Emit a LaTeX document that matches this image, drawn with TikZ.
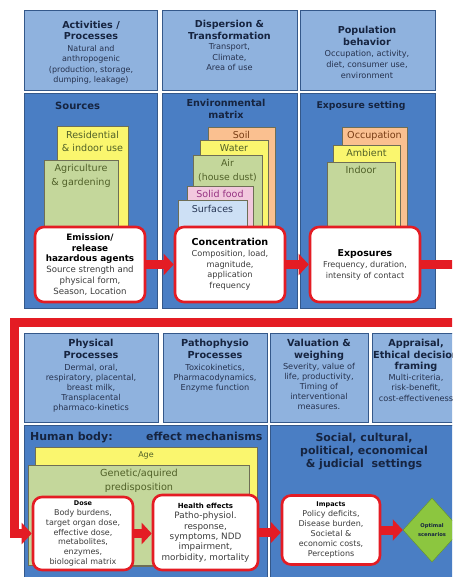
\documentclass[tikz,border=0pt]{standalone}
\usepackage{fontspec}
\setmainfont{DejaVu Sans}
\usetikzlibrary{arrows.meta,shapes.geometric}
\definecolor{hdrblue}{RGB}{143,178,222}
\definecolor{lowblue}{RGB}{74,126,196}
\definecolor{edgeblue}{RGB}{52,88,138}
\definecolor{myred}{RGB}{228,28,36}
\definecolor{ttl}{RGB}{22,36,64}
\definecolor{bodytxt}{RGB}{38,50,78}
\definecolor{yel}{RGB}{250,246,110}
\definecolor{grn}{RGB}{196,215,155}
\definecolor{peach}{RGB}{250,192,144}
\definecolor{pinkc}{RGB}{242,200,222}
\definecolor{lblue}{RGB}{205,224,245}
\definecolor{olivetxt}{RGB}{80,96,40}
\definecolor{browntxt}{RGB}{120,60,20}
\definecolor{purptxt}{RGB}{150,50,130}
\definecolor{slatetxt}{RGB}{40,55,85}
\definecolor{dgreen}{RGB}{140,198,63}
\definecolor{boxtxt}{RGB}{60,60,60}
\definecolor{cedge}{RGB}{110,110,85}
\newcommand\fsz[2]{\fontsize{#1}{#2}\selectfont}
\tikzset{
  hdr/.style={draw=edgeblue, fill=hdrblue, line width=0.8pt},
  low/.style={draw=edgeblue, fill=lowblue, line width=0.8pt},
  cbox/.style={draw=cedge, line width=0.5pt},
  rbox/.style={draw=myred, line width=2.6pt, fill=white, rounded corners=9pt, inner sep=0pt, align=center, text=boxtxt},
  txt/.style={inner sep=0pt, align=center, anchor=north},
  ttltxt/.style={txt, text=ttl},
  bodyt/.style={txt, text=bodytxt},
  rarrow/.style={draw=myred, line width=9pt, -{Triangle[width=21pt,length=10pt]}},
  rline/.style={draw=myred, line width=8.5pt},
}
\begin{document}
\begin{tikzpicture}[x=1pt,y=-1pt]
\useasboundingbox (0,0) rectangle (452,577);
\clip (0,0) rectangle (452,577);
\fill[white] (0,0) rectangle (452,577);

% ---------- top panel ----------
\draw[hdr] (24,10) rectangle (157,90);
\draw[hdr] (162,10) rectangle (297,90);
\draw[hdr] (300,10) rectangle (435,90);
\draw[low] (24,93) rectangle (157,308);
\draw[low] (162,93) rectangle (297,308);
\draw[low] (300,93) rectangle (435,308);

\node[ttltxt, font=\fsz{9.6}{11}\bfseries] (t1) at (91,21.2) {Activities /\\Processes};
\node[bodyt, font=\fsz{8}{10.5}] (b1) at (91,44.8) {Natural and\\anthropogenic\\(production, storage,\\dumping, leakage)};
\node[ttltxt, font=\fsz{9.6}{11.5}\bfseries] (t2) at (229.5,20.2) {Dispersion \&\\Transformation};
\node[bodyt, font=\fsz{8.2}{10.5}] (b2) at (229.5,43.8) {Transport,\\Climate,\\Area of use};
\node[ttltxt, font=\fsz{9.6}{12}\bfseries] (t3) at (367,26.2) {Population\\behavior};
\node[bodyt, font=\fsz{8.2}{11}] (b3) at (367,49.8) {Occupation, activity,\\diet, consumer use,\\environment};

\node[anchor=north west, inner sep=0pt, text=ttl, font=\fsz{10}{12}\bfseries] (srcT) at (55,102.3) {Sources};
\node[ttltxt, font=\fsz{9.6}{12.5}\bfseries] (envT) at (226,99) {Environmental\\matrix};
\node[ttltxt, font=\fsz{9.3}{12}\bfseries] (expT) at (361,101) {Exposure setting};

% sources boxes
\draw[cbox, fill=yel] (57,126) rectangle (128,245);
\node[txt, text=olivetxt, font=\fsz{9.6}{13}] (resT) at (92.5,131.2) {Residential\\\& indoor use};
\draw[cbox, fill=grn] (44,160) rectangle (118,245);
\node[txt, text=olivetxt, font=\fsz{9.6}{13.5}] (agrT) at (81,164.2) {Agriculture\\\& gardening};

% environmental matrix boxes
\draw[cbox, fill=peach] (208,127) rectangle (275,250);
\node[txt, text=browntxt, font=\fsz{9.5}{12}] (soilT) at (241.5,131.2) {Soil};
\draw[cbox, fill=yel] (200,140) rectangle (268,250);
\node[txt, text=olivetxt, font=\fsz{9.5}{12}] (watT) at (234,144.2) {Water};
\draw[cbox, fill=grn] (193,155) rectangle (262,250);
\node[txt, text=olivetxt, font=\fsz{9.3}{14}] (airT) at (227.5,159.2) {Air\\(house dust)};
\draw[cbox, fill=pinkc] (187,186) rectangle (253,250);
\node[txt, text=purptxt, font=\fsz{9.5}{12}] (solT) at (220,190.2) {Solid food};
\draw[cbox, fill=lblue] (178,200) rectangle (247,250);
\node[txt, text=slatetxt, font=\fsz{9.5}{12}] (surT) at (212.5,205.2) {Surfaces};

% exposure setting boxes
\draw[cbox, fill=peach] (342,127) rectangle (407,250);
\node[txt, text=browntxt, font=\fsz{9.6}{12}] (occT) at (374.5,131.2) {Occupation};
\draw[cbox, fill=yel] (333,145) rectangle (400,250);
\node[txt, text=olivetxt, font=\fsz{9.6}{12}] (ambT) at (366.5,149.2) {Ambient};
\draw[cbox, fill=grn] (327,162) rectangle (395,250);
\node[txt, text=olivetxt, font=\fsz{9.6}{12}] (indT) at (361,166.2) {Indoor};

% red boxes top
\node[rbox, minimum width=110, minimum height=75, font=\fsz{8.6}{10.7}] (emis) at (90,264.5)
  {{\color{black}\bfseries\fsz{8.8}{10.7}Emission/}\\{\color{black}\bfseries\fsz{8.8}{10.7}release}\\{\color{black}\bfseries\fsz{8.8}{10.7}hazardous agents}\\Source strength and\\physical form,\\Season, Location};
\node[rbox, minimum width=110, minimum height=75, font=\fsz{8.2}{10.7}] (conc) at (230,264.5)
  {{\color{black}\bfseries\fsz{9.6}{10.7}Concentration}\\Composition, load,\\magnitude,\\application\\frequency};
\node[rbox, minimum width=110, minimum height=75, font=\fsz{8.1}{11}] (expo) at (365,264.5)
  {{\color{black}\bfseries\fsz{9.4}{11}Exposures}\\Frequency, duration,\\intensity of contact};

\draw[rarrow] (emis.east) -- (conc.west);
\draw[rarrow] (conc.east) -- (expo.west);
\coordinate (expout) at (462,264.5);
\draw[rline] (expo.east) -- (expout);

% ---------- bottom panel ----------
\draw[hdr] (24,333) rectangle (158,422);
\draw[hdr] (163,333) rectangle (267,422);
\draw[hdr] (270,333) rectangle (368,422);
\draw[hdr] (372,333) rectangle (470,422);
\draw[low] (24,425) rectangle (267,590);
\draw[low] (270,425) rectangle (470,590);

\node[ttltxt, font=\fsz{9.7}{12}\bfseries] (t4) at (91,339.1) {Physical\\Processes};
\node[bodyt, font=\fsz{8.2}{10}] (b4) at (91,363.7) {Dermal, oral,\\respiratory, placental,\\breast milk,\\Transplacental\\pharmaco-kinetics};
\node[ttltxt, font=\fsz{9.7}{12}\bfseries] (t5) at (215,339.1) {Pathophysio\\Processes};
\node[bodyt, font=\fsz{8.2}{10.2}] (b5) at (215,363.7) {Toxicokinetics,\\Pharmacodynamics,\\Enzyme function};
\node[ttltxt, font=\fsz{9.7}{12}\bfseries] (t6) at (319,339.1) {Valuation \&\\weighing};
\node[bodyt, font=\fsz{8.2}{10.2}] (b6) at (319,362.7) {Severity, value of\\life, productivity,\\Timing of\\interventional\\measures.};
\node[ttltxt, font=\fsz{9.7}{11.5}\bfseries] (t7) at (416,339.1) {Appraisal,\\Ethical decision\\framing};
\node[bodyt, font=\fsz{8.2}{10.5}] (b7) at (416,373.7) {Multi-criteria,\\risk-benefit,\\cost-effectiveness};

\node[anchor=north west, inner sep=0pt, text=ttl, font=\fsz{11}{13}\bfseries] (hbT) at (30,431.6) {Human body:};
\node[anchor=north west, inner sep=0pt, text=ttl, font=\fsz{11}{13}\bfseries] (emT) at (146,431.6) {effect mechanisms};
\node[ttltxt, font=\fsz{11}{13.3}\bfseries] (socT) at (364,432.6) {Social, cultural,\\political, economical\\\& judicial\ \ settings};

\draw[cbox, fill=yel] (35,447) rectangle (257,566);
\node[txt, text=olivetxt, font=\fsz{8}{10}] (ageT) at (146,451.8) {Age};
\draw[cbox, fill=grn] (28,465) rectangle (249,565);
\node[txt, text=olivetxt, font=\fsz{9.7}{14}] (genT) at (139,469) {Genetic/aquired\\predisposition};

\node[rbox, minimum width=100, minimum height=73, font=\fsz{8}{9.7}] (dose) at (83,533.5)
  {{\color{black}\bfseries\fsz{6.5}{9.7}Dose}\\Body burdens,\\target organ dose,\\effective dose,\\metabolites,\\enzymes,\\biological matrix};
\node[rbox, minimum width=105, minimum height=75, font=\fsz{8.8}{10.4}] (health) at (205.5,532.5)
  {{\color{black}\bfseries\fsz{7}{10.4}Health effects}\\Patho-physiol.\\response,\\symptoms, NDD\\impairment,\\morbidity, mortality};
\node[rbox, minimum width=98, minimum height=69, font=\fsz{8}{10}] (impacts) at (331,530)
  {{\color{black}\bfseries\fsz{6.5}{10}Impacts}\\Policy deficits,\\Disease burden,\\Societal \&\\economic costs,\\Perceptions};
\node[diamond, fill=dgreen, draw=dgreen!75!black, line width=0.5pt, minimum width=58, minimum height=64, inner sep=0pt, align=center, text=ttl, font=\fsz{5.2}{9}\bfseries] (opt) at (432,530) {Optimal\\scenarios};

\draw[rarrow] (dose.east) -- (dose.east -| health.west);
\draw[rarrow] (health.east) -- (health.east -| impacts.west);
\draw[rarrow] (impacts.east) -- (opt.west);

% return connector
\coordinate (retin) at (462,322);
\coordinate (retcorner) at (14,322);
\draw[rarrow] (retin) -- (retcorner) |- (dose.west);
\end{tikzpicture}
\end{document}
